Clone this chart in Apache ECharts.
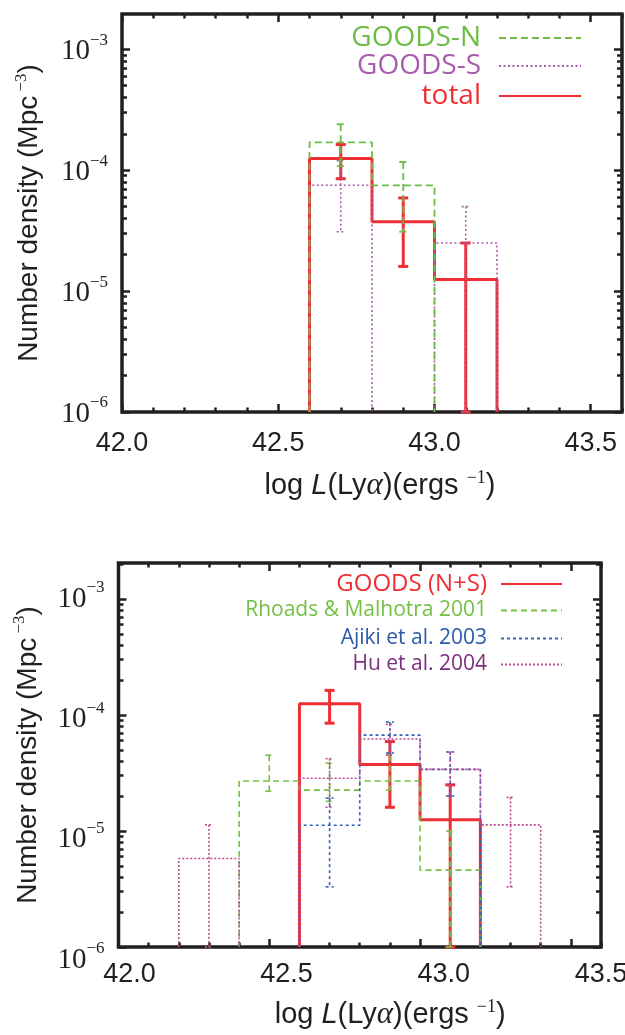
<!DOCTYPE html>
<html>
<head>
<meta charset="utf-8">
<script src="https://cdn.jsdelivr.net/npm/echarts@6/dist/echarts.min.js"></script>
<style>
  html, body { margin: 0; padding: 0; background: #fff; }
  #chart { width: 625px; height: 1035px; }
</style>
</head>
<body>
<div id="chart"></div>
<script>
// ---- upper panel: GOODS-N / GOODS-S / total ----
const goodsNEdges = [42.6, 42.8, 43.0]
const goodsNDens = [1.7e-4, 7.5e-5]
const goodsNErrX = [42.7, 42.9]
const goodsNErrLo = [1.08e-4, 3.1e-5]
const goodsNErrHi = [2.4e-4, 1.17e-4]

const goodsSEdges = [42.6, 42.8, 43.0, 43.2]
const goodsSDens = [7.5e-5, 0, 2.5e-5]
const goodsSErrX = [42.7, 43.1]
const goodsSErrLo = [3.1e-5, 1e-6]
const goodsSErrHi = [1.2e-4, 5e-5]

const totalEdges = [42.6, 42.8, 43.0, 43.2]
const totalDens = [1.25e-4, 3.75e-5, 1.25e-5]
const totalErrX = [42.7, 42.9, 43.1]
const totalErrLo = [8.5e-5, 1.6e-5, 1e-6]
const totalErrHi = [1.63e-4, 5.9e-5, 2.5e-5]

// ---- lower panel: comparison with earlier surveys ----
const rhoadsEdges = [42.4, 42.6, 42.8, 43.0, 43.2]
const rhoadsDens = [2.7e-5, 2.25e-5, 2.7e-5, 4.6e-6]
const rhoadsErrX = [42.5, 42.7, 42.9, 43.1]
const rhoadsErrLo = [2.2e-5, 1.8e-5, 2.25e-5, 1e-6]
const rhoadsErrHi = [4.5e-5, 3.85e-5, 4.5e-5, 1e-5]

const ajikiEdges = [42.6, 42.8, 43.0, 43.2]
const ajikiDens = [1.12e-5, 6.7e-5, 3.4e-5]
const ajikiErrX = [42.7, 42.9, 43.1]
const ajikiErrLo = [3.3e-6, 4.7e-5, 2.0e-5]
const ajikiErrHi = [1.92e-5, 8.7e-5, 4.8e-5]

const huEdges = [42.2, 42.4, 42.6, 42.8, 43.0, 43.2, 43.4]
const huDens = [5.8e-6, 0, 2.85e-5, 6.2e-5, 3.4e-5, 1.13e-5]
const huErrX = [42.3, 42.7, 42.9, 43.1, 43.3]
const huErrLo = [1e-6, 1.6e-5, 4.5e-5, 2.0e-5, 3.3e-6]
const huErrHi = [1.13e-5, 4.2e-5, 8.3e-5, 4.8e-5, 1.95e-5]

// ---- ticks ----
const xMajor = [42.0, 42.5, 43.0, 43.5]
const xMinor = [42.1, 42.2, 42.3, 42.4, 42.6, 42.7, 42.8, 42.9, 43.1, 43.2, 43.3, 43.4, 43.6]
const yDecades = [-6, -5, -4, -3]
const yMantissa = [2, 3, 4, 5, 6, 7, 8, 9]

const INK = '#231f20'
const FLOOR = -6
const lg = (v) => Math.log10(v)
const yMinor = []
yDecades.forEach((d) => yMantissa.forEach((m) => yMinor.push(d + lg(m))))

// step outline of a histogram, dropping to the floor at the ends and at empty bins
function histLine(edges, dens) {
  const pts = []
  let open = false
  dens.forEach((d, i) => {
    if (!(d > 0)) {
      if (open) {
        pts.push([edges[i], FLOOR])
        pts.push(['-', '-'])
        open = false
      }
      return
    }
    if (!open) {
      pts.push([edges[i], FLOOR])
      open = true
    }
    pts.push([edges[i], lg(d)], [edges[i + 1], lg(d)])
  })
  if (open) pts.push([edges[dens.length], FLOOR])
  return pts
}

function hist(name, edges, dens, color, width, dash, ax, z) {
  return {
    name: name,
    type: 'line',
    xAxisIndex: ax,
    yAxisIndex: ax,
    data: histLine(edges, dens),
    symbol: 'none',
    connectNulls: false,
    z: z,
    animation: false,
    lineStyle: { color: color, width: width, type: dash, cap: 'butt' },
    itemStyle: { color: color }
  }
}

function errBars(name, xs, lo, hi, color, width, dash, cap, ax, z) {
  return {
    name: name,
    type: 'custom',
    xAxisIndex: ax,
    yAxisIndex: ax,
    z: z,
    clip: false,
    animation: false,
    data: xs.map((x, i) => [x, lg(lo[i]), lg(hi[i])]),
    encode: { x: 0, y: [1, 2] },
    renderItem: function (params, api) {
      const top = api.coord([api.value(0), api.value(2)])
      const bot = api.coord([api.value(0), api.value(1)])
      const style = { stroke: color, lineWidth: width, lineDash: dash, fill: null }
      return {
        type: 'group',
        children: [
          { type: 'line', shape: { x1: top[0], y1: top[1], x2: bot[0], y2: bot[1] }, style: style },
          { type: 'line', shape: { x1: top[0] - cap, y1: top[1], x2: top[0] + cap, y2: top[1] }, style: style },
          { type: 'line', shape: { x1: bot[0] - cap, y1: bot[1], x2: bot[0] + cap, y2: bot[1] }, style: style }
        ]
      }
    }
  }
}

// one legend per row so the line samples line up on the right
function legendRow(name, color, right, top, size, lineW, gap) {
  return {
    data: [name],
    right: right,
    top: top,
    orient: 'horizontal',
    align: 'right',
    padding: 0,
    itemWidth: lineW,
    itemHeight: 12,
    selectedMode: false,
    itemStyle: { opacity: 0, borderWidth: 0 },
    textStyle: { color: color, fontSize: size, fontFamily: 'Open Sans', padding: [0, gap, 0, 0] }
  }
}

const tickLine = { color: INK, width: 2.5 }
function tickAxis(grid, pos, min, max, values, len) {
  return {
    type: 'value',
    gridIndex: grid,
    position: pos,
    min: min,
    max: max,
    axisLine: { show: false },
    splitLine: { show: false },
    axisLabel: { show: false },
    axisTick: { show: true, inside: true, length: len, lineStyle: tickLine, customValues: values }
  }
}

const xName = '{n|log }{i|L}{n|(Ly}{g|α}{n|)(ergs }{s|−1}{n|)}'
const xNameRich = {
  n: { fontFamily: 'Liberation Sans', fontSize: 29, color: INK },
  i: { fontFamily: 'Liberation Sans', fontStyle: 'italic', fontSize: 29, color: INK },
  g: { fontFamily: 'Liberation Serif', fontStyle: 'italic', fontSize: 31, color: INK },
  s: { fontFamily: 'Liberation Serif', fontSize: 18, color: INK, padding: [0, 0, 16, 0] }
}
const yName = '{n|Number density (Mpc}{s| −3}{n|)}'
const yNameRich = {
  n: { fontFamily: 'Liberation Sans', fontSize: 28, color: INK },
  s: { fontFamily: 'Liberation Serif', fontSize: 17, color: INK, padding: [0, 0, 16, 0] }
}
const xLabel = {
  show: true,
  customValues: xMajor,
  formatter: (v) => v.toFixed(1),
  margin: 18,
  color: INK,
  fontFamily: 'Liberation Sans',
  fontSize: 27
}
const yLabel = {
  show: true,
  customValues: yDecades,
  showMinLabel: true,
  showMaxLabel: true,
  formatter: (v) => '{b|10}{s|−' + Math.round(-v) + '}',
  margin: 14,
  rich: {
    b: { fontFamily: 'Liberation Serif', fontSize: 29, color: INK, padding: [4, 0, 0, 0] },
    s: { fontFamily: 'Liberation Serif', fontSize: 17, color: INK, padding: [0, 0, 18, 0] }
  }
}

const TOP_MAX = -2.708
const BOT_MAX = -2.69

const xAxes = [
  // upper panel
  Object.assign(tickAxis(0, 'bottom', 42.0, 43.6, xMajor, 8), {
    axisLabel: xLabel,
    name: xName,
    nameLocation: 'middle',
    nameGap: 57,
    nameTextStyle: { rich: xNameRich, padding: [0, 0, 0, 16] }
  }),
  tickAxis(0, 'bottom', 42.0, 43.6, xMinor, 4.5),
  tickAxis(0, 'top', 42.0, 43.6, xMajor, 8),
  tickAxis(0, 'top', 42.0, 43.6, xMinor, 4.5),
  // lower panel
  tickAxis(1, 'bottom', 42.0, 43.6, xMajor, 8),
  tickAxis(1, 'bottom', 42.0, 43.6, xMinor, 4.5),
  tickAxis(1, 'top', 42.0, 43.6, xMajor, 8),
  tickAxis(1, 'top', 42.0, 43.6, xMinor, 4.5),
  // lower panel tick labels sit on their own slightly shifted scale
  {
    type: 'value', gridIndex: 2, min: 42.0, max: 43.5,
    axisLine: { show: false }, axisTick: { show: false }, splitLine: { show: false },
    axisLabel: Object.assign({}, xLabel, { margin: 14 }),
    name: xName,
    nameLocation: 'middle',
    nameGap: 51,
    nameTextStyle: { rich: xNameRich, padding: [0, 0, 0, 50] }
  },
  { type: 'value', gridIndex: 3, min: 42.0, max: 43.6, show: false }
]

const yAxes = [
  Object.assign(tickAxis(0, 'left', FLOOR, TOP_MAX, yDecades, 8), {
    axisLabel: yLabel,
    name: yName,
    nameLocation: 'middle',
    nameRotate: 90,
    nameGap: 76,
    nameTextStyle: { rich: yNameRich }
  }),
  tickAxis(0, 'left', FLOOR, TOP_MAX, yMinor, 5),
  tickAxis(0, 'right', FLOOR, TOP_MAX, yDecades, 8),
  tickAxis(0, 'right', FLOOR, TOP_MAX, yMinor, 5),
  Object.assign(tickAxis(1, 'left', FLOOR, BOT_MAX, yDecades, 8), {
    name: yName,
    nameLocation: 'middle',
    nameRotate: 90,
    nameGap: 74,
    nameTextStyle: { rich: yNameRich }
  }),
  tickAxis(1, 'left', FLOOR, BOT_MAX, yMinor, 5),
  tickAxis(1, 'right', FLOOR, BOT_MAX, yDecades, 8),
  tickAxis(1, 'right', FLOOR, BOT_MAX, yMinor, 5),
  { type: 'value', gridIndex: 2, min: FLOOR, max: -3, show: false },
  {
    type: 'value', gridIndex: 3, min: FLOOR, max: -3,
    axisLine: { show: false }, axisTick: { show: false }, splitLine: { show: false },
    axisLabel: yLabel
  }
]

const RED = '#ee2e33'
const GREEN = '#6cbd45'
const PURPLE = '#a95cae'
const BLUE = '#3562b5'
const HU = '#c04a92'

const series = [
  // upper
  hist('total', totalEdges, totalDens, RED, 3, 'solid', 0, 2),
  errBars('total err', totalErrX, totalErrLo, totalErrHi, RED, 3, null, 5, 0, 2),
  hist('GOODS-S', goodsSEdges, goodsSDens, PURPLE, 1.6, [2, 2.5], 0, 3),
  errBars('GOODS-S err', goodsSErrX, goodsSErrLo, goodsSErrHi, PURPLE, 1.6, [2, 2.5], 4, 0, 3),
  hist('GOODS-N', goodsNEdges, goodsNDens, GREEN, 1.8, [7, 4], 0, 4),
  errBars('GOODS-N err', goodsNErrX, goodsNErrLo, goodsNErrHi, GREEN, 1.8, [7, 4], 4, 0, 4),
  // lower
  hist('GOODS (N+S)', totalEdges, totalDens, RED, 3, 'solid', 4, 2),
  errBars('GOODS (N+S) err', totalErrX, totalErrLo, totalErrHi, RED, 3, null, 5, 4, 2),
  hist('Rhoads & Malhotra 2001', rhoadsEdges, rhoadsDens, '#74c045', 1.6, [6, 4], 4, 3),
  errBars('Rhoads err', rhoadsErrX, rhoadsErrLo, rhoadsErrHi, '#74c045', 1.6, [6, 4], 4, 4, 3),
  hist('Ajiki et al. 2003', ajikiEdges, ajikiDens, BLUE, 1.6, [3, 3], 4, 4),
  errBars('Ajiki err', ajikiErrX, ajikiErrLo, ajikiErrHi, BLUE, 1.6, [3, 3], 4, 4, 4),
  hist('Hu et al. 2004', huEdges, huDens, HU, 1.6, [2, 2], 4, 5),
  errBars('Hu err', huErrX, huErrLo, huErrHi, HU, 1.6, [2, 2], 4, 4, 5)
]

const chart = echarts.init(document.getElementById('chart'), null, { renderer: 'canvas' })
chart.setOption({
  animation: false,
  backgroundColor: '#fff',
  grid: [
    { left: 122, top: 14, width: 500, height: 398, show: true, borderColor: INK, borderWidth: 3.5, outerBoundsMode: 'none' },
    { left: 118.5, top: 563, width: 482.5, height: 384, show: true, borderColor: INK, borderWidth: 3.5, outerBoundsMode: 'none' },
    { left: 129.4, top: 563, width: 471.6, height: 384, outerBoundsMode: 'none' },
    { left: 118.5, top: 597, width: 482.5, height: 361, outerBoundsMode: 'none' }
  ],
  legend: [
    legendRow('GOODS-N', GREEN, 43, 24, 28, 82, 13),
    legendRow('GOODS-S', PURPLE, 43, 52, 28, 82, 13),
    legendRow('total', RED, 43, 82, 28, 82, 13),
    legendRow('GOODS (N+S)', RED, 62, 572, 24, 61, 9),
    legendRow('Rhoads & Malhotra 2001', '#74c045', 62, 600, 21, 61, 9),
    legendRow('Ajiki et al. 2003', '#2b5aa8', 62, 628, 21, 61, 9),
    legendRow('Hu et al. 2004', '#7d2f7f', 62, 654, 21, 61, 9)
  ],
  xAxis: xAxes,
  yAxis: yAxes,
  series: series
})
</script>
</body>
</html>
